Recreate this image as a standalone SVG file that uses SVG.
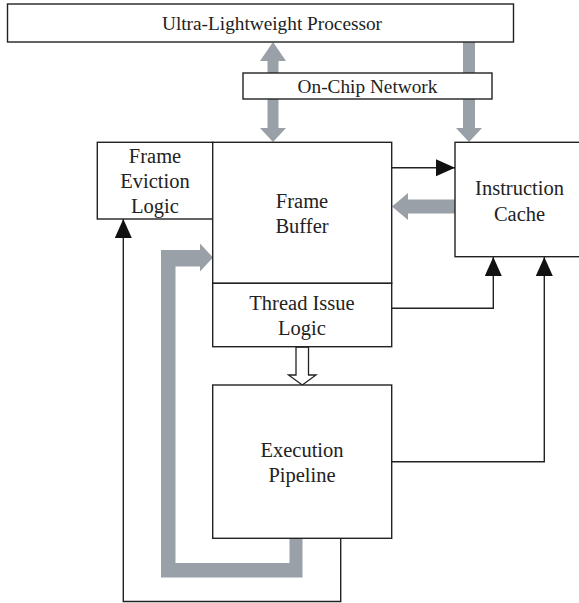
<svg xmlns="http://www.w3.org/2000/svg" width="579" height="603" viewBox="0 0 579 603">
<style>
.box{fill:#fff;stroke:#222;stroke-width:1.4}
.t{font-family:"Liberation Serif","Times New Roman",serif;font-size:20.5px;fill:#222;text-anchor:middle}
.ts{font-size:19.3px}
.gray{fill:#9aa0a7;stroke:none}
.ln{fill:none;stroke:#222;stroke-width:1.4}
.hollow{fill:#fff;stroke:#222;stroke-width:1.3}
</style>
<defs>
<marker id="ah" markerUnits="userSpaceOnUse" markerWidth="20" markerHeight="18" refX="19" refY="8.5" orient="auto">
<path d="M0,0 L19,8.5 L0,17 Z" fill="#111"/>
</marker>
</defs>
<rect width="579" height="603" fill="#fff"/>
<g id="connectors">
<polygon class="gray" points="273,42 286,61 278.5,61 278.5,128 286,128 273,142 260,128 267.5,128 267.5,61 260,61"/>
<polygon class="gray" points="463,42 475,42 475,128 482,128 469,142 456,128 463,128"/>
<polygon class="gray" points="455,199.5 408,199.5 408,193 392,206.5 408,220 408,213.5 455,213.5"/>
<polygon class="gray" points="289.5,538.5 302.5,538.5 302.5,577.5 161,577.5 161,250 200,250 200,243.5 213,257.5 200,271.5 200,266.5 175.5,266.5 175.5,563 289.5,563"/>
<polygon class="hollow" points="296,347 308.5,347 308.5,375 316,375 302.3,385 288.5,375 296,375"/>
<path class="ln" d="M391.7,167.7 H455" marker-end="url(#ah)"/>
<path class="ln" d="M340.7,538.3 V601.5 H123.3 V219" marker-end="url(#ah)"/>
<path class="ln" d="M391.7,308.3 H493.3 V257" marker-end="url(#ah)"/>
<path class="ln" d="M391.7,461.7 H544.3 V257" marker-end="url(#ah)"/>
</g>
<g id="processor">
<rect class="box" x="7.5" y="4" width="506" height="38"/>
<text class="t ts" x="272" y="30">Ultra-Lightweight Processor</text>
</g>
<g id="network">
<rect class="box" x="243" y="73" width="249" height="26"/>
<text class="t ts" x="367.5" y="93">On-Chip Network</text>
</g>
<g id="frame-eviction">
<rect class="box" x="97.3" y="142.3" width="115.4" height="76.7"/>
<text class="t" x="155" y="163">Frame</text>
<text class="t" x="155" y="188">Eviction</text>
<text class="t" x="155" y="213">Logic</text>
</g>
<g id="frame-buffer">
<rect class="box" x="212.7" y="142.3" width="179" height="141"/>
<text class="t" x="302" y="208">Frame</text>
<text class="t" x="302" y="233">Buffer</text>
</g>
<g id="thread-issue">
<rect class="box" x="212.7" y="283.3" width="179" height="63.4"/>
<text class="t" x="302" y="310">Thread Issue</text>
<text class="t" x="302" y="335">Logic</text>
</g>
<g id="instruction-cache">
<rect class="box" x="455" y="142.3" width="135" height="114.4"/>
<text class="t" x="519.5" y="195">Instruction</text>
<text class="t" x="519.5" y="220.5">Cache</text>
</g>
<g id="execution-pipeline">
<rect class="box" x="212.7" y="385" width="179" height="153.3"/>
<text class="t" x="302" y="456.5">Execution</text>
<text class="t" x="302" y="481.5">Pipeline</text>
</g>
</svg>
